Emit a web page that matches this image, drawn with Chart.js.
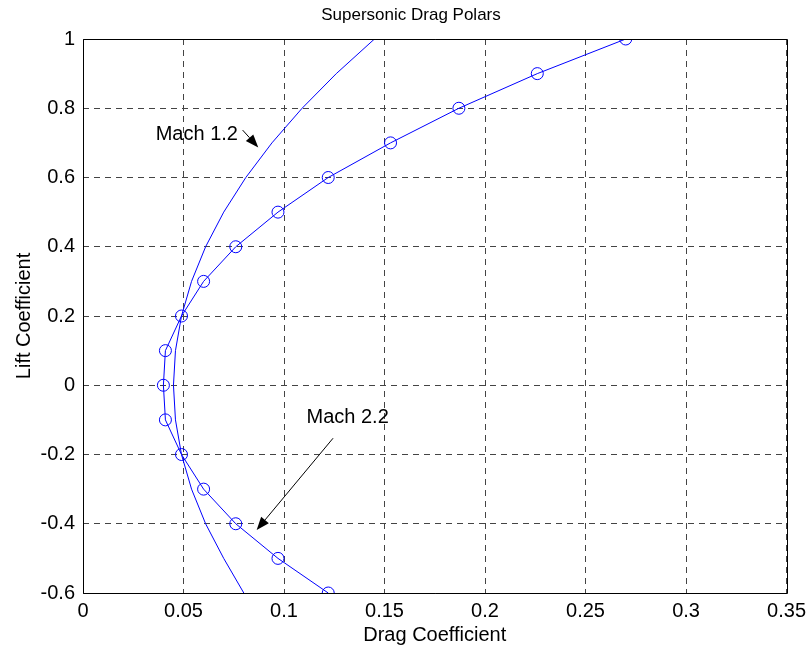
<!DOCTYPE html>
<html>
<head>
<meta charset="utf-8">
<title>Supersonic Drag Polars</title>
<script src="https://cdn.jsdelivr.net/npm/chart.js@4.4.1/dist/chart.umd.min.js"></script>
<style>
  html, body { margin: 0; padding: 0; background: #fff; }
  #wrap { width: 812px; height: 651px; }
</style>
</head>
<body>
<div id="wrap"><canvas id="polarChart" width="812" height="651"></canvas></div>
<script>
// Lift coefficient values (shared by both polars)
const liftCoeff = [-0.6, -0.5, -0.4, -0.3, -0.2, -0.1, 0, 0.1, 0.2, 0.3, 0.4, 0.5, 0.6, 0.7, 0.8, 0.9, 1.0];
// Drag coefficient
const dragMach12 = [0.080, 0.070, 0.061, 0.054, 0.049, 0.046, 0.045, 0.046, 0.049, 0.054, 0.061, 0.070, 0.081, 0.094, 0.109, 0.126, 0.145];
const dragMach22 = [0.122, 0.097, 0.076, 0.060, 0.049, 0.041, 0.040, 0.041, 0.049, 0.060, 0.076, 0.097, 0.122, 0.153, 0.187, 0.226, 0.270];

const xTicks = [0, 0.05, 0.1, 0.15, 0.2, 0.25, 0.3, 0.35];
const yTicks = [-0.6, -0.4, -0.2, 0, 0.2, 0.4, 0.6, 0.8, 1];

const titleText = "Supersonic Drag Polars";
const xTitle = "Drag Coefficient";
const yTitle = "Lift Coefficient";

// annotation labels + arrows, in data coordinates
const notes = [
    { text: "Mach 1.2", x: 0.0771, y: 0.708, align: "right", from: [0.0794, 0.737], to: [0.0872, 0.687] },
    { text: "Mach 2.2", x: 0.1112, y: -0.108, align: "left", from: [0.1244, -0.153], to: [0.0864, -0.418] }
];

const FONT = "'Liberation Sans', Arial, Helvetica, sans-serif";
const BLUE = "#0000ff";

const toPoints = (xs, ys) => xs.map((x, i) => ({ x: x, y: ys[i] }));

// draws title, axis labels, box and the arrows
const decorations = {
    id: "decorations",
    afterDraw(chart) {
        const ctx = chart.ctx;
        const area = chart.chartArea;
        const xs = chart.scales.x;
        const ys = chart.scales.y;
        ctx.save();

        // axes box
        ctx.strokeStyle = "#000";
        ctx.lineWidth = 1;
        ctx.setLineDash([]);
        ctx.beginPath();
        ctx.rect(Math.round(area.left) + 0.5, Math.round(area.top) + 0.5,
                 Math.round(area.right - area.left), Math.round(area.bottom - area.top));
        ctx.stroke();

        ctx.fillStyle = "#000";
        ctx.textAlign = "center";
        ctx.textBaseline = "alphabetic";
        ctx.font = "17px " + FONT;
        ctx.fillText(titleText, 411, 20);

        ctx.font = "20px " + FONT;
        ctx.fillText(xTitle, (area.left + area.right) / 2, 641);

        ctx.save();
        ctx.translate(30, (area.top + area.bottom) / 2);
        ctx.rotate(-Math.PI / 2);
        ctx.fillText(yTitle, 0, 0);
        ctx.restore();

        // notes
        notes.forEach(n => {
            ctx.textAlign = n.align;
            ctx.fillText(n.text, xs.getPixelForValue(n.x), ys.getPixelForValue(n.y));
            const x0 = xs.getPixelForValue(n.from[0]), y0 = ys.getPixelForValue(n.from[1]);
            const x1 = xs.getPixelForValue(n.to[0]), y1 = ys.getPixelForValue(n.to[1]);
            const ang = Math.atan2(y1 - y0, x1 - x0);
            const headLen = 13, headW = 5;
            const bx = x1 - headLen * Math.cos(ang), by = y1 - headLen * Math.sin(ang);
            ctx.beginPath();
            ctx.moveTo(x0, y0);
            ctx.lineTo(bx, by);
            ctx.stroke();
            ctx.beginPath();
            ctx.moveTo(x1, y1);
            ctx.lineTo(bx + headW * Math.sin(ang), by - headW * Math.cos(ang));
            ctx.lineTo(bx - headW * Math.sin(ang), by + headW * Math.cos(ang));
            ctx.closePath();
            ctx.fill();
        });
        ctx.restore();
    }
};

const polarChart = new Chart(document.getElementById("polarChart"), {
    type: "scatter",
    data: {
        datasets: [
            {
                label: "Mach 1.2",
                data: toPoints(dragMach12, liftCoeff),
                showLine: true,
                borderColor: BLUE,
                borderWidth: 1,
                pointRadius: 0,
                fill: false
            },
            {
                label: "Mach 2.2",
                data: toPoints(dragMach22, liftCoeff),
                showLine: true,
                borderColor: BLUE,
                borderWidth: 1,
                pointStyle: "circle",
                pointRadius: 6,
                pointBorderWidth: 1,
                pointBorderColor: BLUE,
                pointBackgroundColor: "rgba(0,0,0,0)",
                fill: false
            }
        ]
    },
    options: {
        responsive: false,
        devicePixelRatio: 1,
        animation: false,
        layout: { padding: { top: 39, right: 25, left: 0, bottom: 0 } },
        plugins: {
            legend: { display: false },
            tooltip: { enabled: false }
        },
        scales: {
            x: {
                type: "linear",
                min: 0,
                max: 0.35,
                afterFit: axis => { axis.height = 58; },
                afterBuildTicks: axis => { axis.ticks = xTicks.map(v => ({ value: v })); },
                border: { display: false, dash: [6, 5] },
                grid: { color: "#444", lineWidth: 1, drawTicks: false },
                ticks: {
                    padding: 6,
                    color: "#000",
                    font: { family: FONT, size: 20 },
                    maxRotation: 0,
                    autoSkip: false,
                    callback: v => String(v)
                }
            },
            y: {
                type: "linear",
                min: -0.6,
                max: 1,
                afterFit: axis => { axis.width = 83; },
                afterBuildTicks: axis => { axis.ticks = yTicks.map(v => ({ value: v })); },
                border: { display: false, dash: [6, 5] },
                grid: { color: "#444", lineWidth: 1, drawTicks: false },
                ticks: {
                    padding: 8,
                    color: "#000",
                    font: { family: FONT, size: 20 },
                    autoSkip: false,
                    callback: v => String(v)
                }
            }
        }
    },
    plugins: [decorations]
});
</script>
</body>
</html>
